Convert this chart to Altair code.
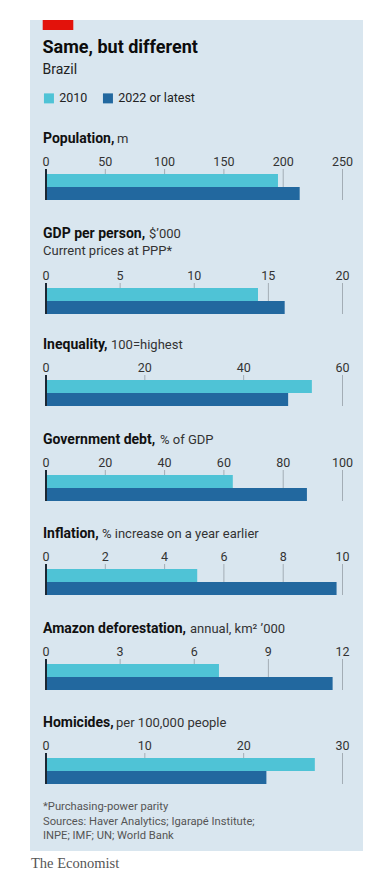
import altair as alt
import pandas as pd

# ---------------- data ----------------
series = ["2010", "2022 or latest"]
series_colors = ["#4fc3d6", "#22689f"]

population = [195.6, 213.9]
population_ticks = [0, 50, 100, 150, 200, 250]
gdp = [14.3, 16.1]
gdp_ticks = [0, 5, 10, 15, 20]
inequality = [53.8, 49.0]
inequality_ticks = [0, 20, 40, 60]
debt = [63.0, 88.0]
debt_ticks = [0, 20, 40, 60, 80, 100]
inflation = [5.1, 9.8]
inflation_ticks = [0, 2, 4, 6, 8, 10]
deforestation = [7.0, 11.6]
deforestation_ticks = [0, 3, 6, 9, 12]
homicides = [27.2, 22.3]
homicides_ticks = [0, 10, 20, 30]

titles_bold = ["Population,", "GDP per person,", "Inequality,", "Government debt,",
               "Inflation,", "Amazon deforestation,", "Homicides,"]
titles_unit = ["m", "$\u2019000", "100=highest", "% of GDP",
               "% increase on a year earlier", "annual, km\u00b2 \u2019000", "per 100,000 people"]
subtitles = [None, "Current prices at PPP*", None, None, None, None, None]
values = [population, gdp, inequality, debt, inflation, deforestation, homicides]
ticks = [population_ticks, gdp_ticks, inequality_ticks, debt_ticks,
         inflation_ticks, deforestation_ticks, homicides_ticks]

chart_title = "Same, but different"
chart_subtitle = "Brazil"
footnotes = ["*Purchasing-power parity",
             "Sources: Haver Analytics; Igarap\u00e9 Institute;",
             "INPE; IMF; UN; World Bank"]
brand = "The Economist"

# ---------------- layout / style ----------------
W = 333
BG = "#d9e6ef"
GRID = "#a3adb5"
FONT = "Roboto"
unit_x = [87, 119, 81, 130, 72, 160, 86]
panel_heights = [95, 111, 95, 94, 95, 94, 91]

color_scale = alt.Scale(domain=series, range=series_colors)
legend = alt.Legend(orient="none", legendX=12.7, legendY=72, direction="horizontal",
                    title=None, symbolType="square", symbolSize=100, symbolStrokeWidth=0,
                    symbolOpacity=1, labelFontSize=12.5, labelFont=FONT, labelColor="#222",
                    columnPadding=14, labelOffset=4, zindex=1)


def text_layer(txt, x, y, size, weight="normal", color="#111", font=FONT):
    return alt.Chart(pd.DataFrame({"t": [txt]})).mark_text(
        align="left", baseline="alphabetic", fontSize=size, fontWeight=weight,
        color=color, font=font
    ).encode(text="t:N", x=alt.value(x), y=alt.value(y))


def metric_panel(i):
    off = 0 if subtitles[i] is None else 19
    df = pd.DataFrame({"series": series, "value": values[i]})
    tdf = pd.DataFrame({"tick": ticks[i]})
    xs = alt.Scale(domain=[0, max(ticks[i])], range=[16, 312.5], nice=False, zero=True)
    ys = alt.Scale(domain=series, range=[52 + off, 78 + off], paddingInner=0, paddingOuter=0)

    grid = alt.Chart(tdf).transform_filter("datum.tick > 0").mark_rule(
        color=GRID, strokeWidth=1
    ).encode(x=alt.X("tick:Q", scale=xs, axis=None),
             y=alt.value(47 + off), y2=alt.value(78 + off))
    bars = alt.Chart(df).mark_bar().encode(
        x=alt.X("value:Q", scale=xs, axis=None),
        y=alt.Y("series:N", scale=ys, axis=None),
        color=alt.Color("series:N", scale=color_scale, legend=legend),
    )
    zero = alt.Chart(tdf).transform_filter("datum.tick == 0").mark_rule(
        color="#1b2733", strokeWidth=2
    ).encode(x=alt.X("tick:Q", scale=xs, axis=None),
             y=alt.value(47 + off), y2=alt.value(78 + off))
    labels = alt.Chart(tdf).mark_text(
        fontSize=12.5, font=FONT, baseline="alphabetic", align="center", color="#333"
    ).encode(x=alt.X("tick:Q", scale=xs, axis=None), y=alt.value(44 + off),
             text=alt.Text("tick:Q", format="d"))

    layers = [grid, bars, zero, labels,
              text_layer(titles_bold[i], 13, 21, 14, "bold", "#111"),
              text_layer(titles_unit[i], unit_x[i], 21, 13, "normal", "#333")]
    if subtitles[i] is not None:
        layers.append(text_layer(subtitles[i], 13, 38, 13, "normal", "#333"))
    return alt.layer(*layers).properties(width=W, height=panel_heights[i])


header = alt.layer(
    alt.Chart(pd.DataFrame({"a": [1]})).mark_rect(color="#e3120b").encode(
        x=alt.value(12.7), x2=alt.value(43.3), y=alt.value(0), y2=alt.value(10)),
    text_layer(chart_title, 12.5, 32.7, 18, "bold", "#0c0c0c"),
    text_layer(chart_subtitle, 12.5, 54, 14, "normal", "#222"),
).properties(width=W, height=102)

footer = alt.layer(
    text_layer(footnotes[0], 13, 13, 11.2, "normal", "#555"),
    text_layer(footnotes[1], 13, 28, 11.2, "normal", "#555"),
    text_layer(footnotes[2], 13, 42, 11.2, "normal", "#555"),
).properties(width=W, height=54)

brand_panel = text_layer(brand, 1, 17, 14.5, "normal", "#555", "Liberation Serif").properties(
    width=W, height=28, view=alt.ViewBackground(fill="white", stroke=None))

chart = alt.vconcat(
    header, *[metric_panel(i) for i in range(7)], footer, brand_panel, spacing=0
).properties(
    padding={"left": 22, "top": 12, "right": 0, "bottom": 0},
    background="white",
).configure_view(fill=BG, stroke=None)

chart.save("out.html", embed_options={"renderer": "svg", "actions": False})
